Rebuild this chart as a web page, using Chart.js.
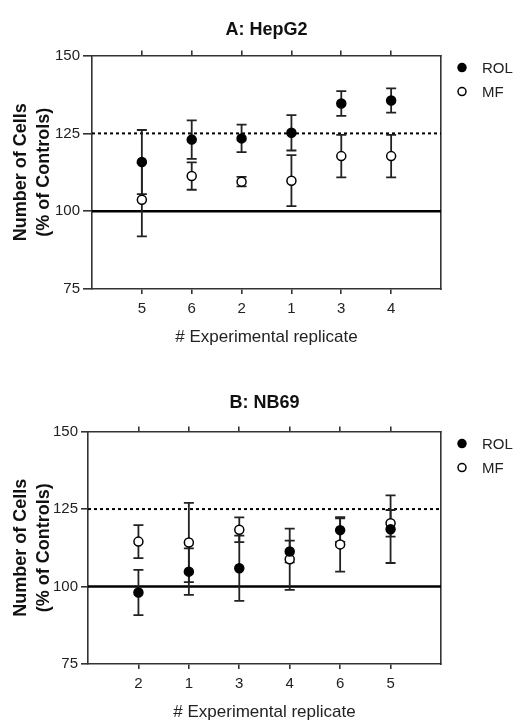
<!DOCTYPE html>
<html lang="en">
<head>
    <meta charset="UTF-8">
    <title>Number of Cells – HepG2 / NB69</title>
    <script src="https://cdn.jsdelivr.net/npm/chart.js"></script>
    <style>
        body { margin: 0; width: 517px; height: 720px; overflow: hidden; background: white; position: relative; }
        canvas { position: absolute; left: 0; }
        #chartA { top: 0; }
        #chartB { top: 372px; }
    </style>
</head>
<body>

<canvas id="chartA" width="517" height="360"></canvas>
<canvas id="chartB" width="517" height="360"></canvas>

<script>
    const yTicks = [75, 100, 125, 150];

    // A: HepG2
    const catsA = ["5", "6", "2", "1", "3", "4"];
    const rolA = [115.8, 123.0, 123.4, 125.2, 134.6, 135.6];
    const rolErrA = [10.3, 6.2, 4.4, 5.7, 4.0, 3.9];
    const mfA = [103.7, 111.3, 109.5, 109.8, 117.7, 117.7];
    const mfErrA = [11.8, 4.4, 1.5, 8.2, 6.8, 6.8];

    // B: NB69
    const catsB = ["2", "1", "3", "4", "6", "5"];
    const rolB = [98.1, 104.8, 105.9, 111.3, 118.2, 118.5];
    const rolErrB = [7.3, 7.5, 10.5, 3.5, 3.8, 10.9];
    const mfB = [114.5, 114.2, 118.3, 108.8, 113.6, 120.4];
    const mfErrB = [5.3, 12.8, 4.0, 9.9, 8.8, 4.3];

    const FONT = "'Liberation Sans', Arial, sans-serif";
    const INK = "#222";
    Chart.defaults.font.family = FONT;
    Chart.defaults.color = INK;

    // reference lines (100 solid, 125 dotted) + error bars, under the points
    const errorBars = {
        id: "errorBars",
        beforeDatasetsDraw(chart) {
            const { ctx, chartArea: a, scales: { y } } = chart;
            ctx.save();
            ctx.strokeStyle = "#000";
            ctx.lineWidth = 2.5;
            ctx.beginPath();
            ctx.moveTo(a.left, y.getPixelForValue(100));
            ctx.lineTo(a.right, y.getPixelForValue(100));
            ctx.stroke();
            ctx.lineWidth = 2;
            ctx.setLineDash([3, 3]);
            ctx.beginPath();
            ctx.moveTo(a.left, y.getPixelForValue(125));
            ctx.lineTo(a.right, y.getPixelForValue(125));
            ctx.stroke();
            ctx.setLineDash([]);

            ctx.strokeStyle = "#222";
            ctx.lineWidth = 1.8;
            chart.data.datasets.forEach((ds, di) => {
                chart.getDatasetMeta(di).data.forEach((pt, i) => {
                    const v = ds.data[i].y, e = ds.errors[i];
                    const top = y.getPixelForValue(v + e), bot = y.getPixelForValue(v - e);
                    ctx.beginPath();
                    ctx.moveTo(pt.x, top); ctx.lineTo(pt.x, bot);
                    ctx.moveTo(pt.x - 5, top); ctx.lineTo(pt.x + 5, top);
                    ctx.moveTo(pt.x - 5, bot); ctx.lineTo(pt.x + 5, bot);
                    ctx.stroke();
                });
            });
            ctx.restore();
        }
    };

    // legend to the right of the plot box
    const sideLegend = {
        id: "sideLegend",
        afterDraw(chart) {
            const { ctx, chartArea: a } = chart;
            ctx.save();
            ctx.font = "15px " + FONT;
            ctx.textBaseline = "middle";
            chart.data.datasets.forEach((ds, i) => {
                const cy = a.top + 12 + i * 24;
                ctx.beginPath();
                ctx.arc(a.right + 21, cy, 4, 0, Math.PI * 2);
                ctx.fillStyle = ds.backgroundColor;
                ctx.fill();
                ctx.lineWidth = 1.5;
                ctx.strokeStyle = "#000";
                ctx.stroke();
                ctx.fillStyle = INK;
                ctx.fillText(ds.label, a.right + 41, cy + 1);
            });
            ctx.restore();
        }
    };

    function makeChart(id, title, cats, rol, rolErr, mf, mfErr, L) {
        const pts = vals => vals.map((v, i) => ({ x: i + 1, y: v }));
        const catTicks = s => { s.ticks = cats.map((c, i) => ({ value: i + 1 })); };
        const line = { color: "#333", width: 1.6 };
        new Chart(document.getElementById(id), {
            type: "scatter",
            data: {
                datasets: [
                    { label: "ROL", data: pts(rol), errors: rolErr,
                      backgroundColor: "#000", borderColor: "#000", borderWidth: 1.5, pointRadius: 4.5 },
                    { label: "MF", data: pts(mf), errors: mfErr,
                      backgroundColor: "#fff", borderColor: "#000", borderWidth: 1.5, pointRadius: 4.5 }
                ]
            },
            plugins: [errorBars, sideLegend],
            options: {
                responsive: false,
                animation: false,
                layout: { padding: { left: 0, right: 76, top: 0, bottom: 0 } },
                plugins: {
                    legend: { display: false },
                    tooltip: { enabled: false },
                    title: {
                        display: true, text: title, fullSize: false, color: "#111",
                        font: { size: 18, weight: "bold" },
                        padding: { top: L.titleTop, bottom: L.titleBottom }
                    }
                },
                scales: {
                    x: {
                        type: "linear", position: "bottom", min: 0, max: 7,
                        afterBuildTicks: catTicks,
                        afterFit: s => { s.height = L.xHeight; },
                        ticks: { font: { size: 15 }, padding: 6, callback: v => cats[v - 1] },
                        grid: { drawOnChartArea: false, tickLength: 5, color: line.color, lineWidth: line.width },
                        border: { color: line.color, width: line.width },
                        title: { display: true, text: "# Experimental replicate", font: { size: 17 },
                                 padding: { top: 0, bottom: L.xTitleBottom } }
                    },
                    x2: {
                        type: "linear", position: "top", min: 0, max: 7,
                        afterBuildTicks: catTicks,
                        afterFit: s => { s.height = 0; },
                        ticks: { display: false },
                        grid: { drawOnChartArea: false, tickLength: 5, color: line.color, lineWidth: line.width },
                        border: { color: line.color, width: line.width }
                    },
                    y: {
                        min: 75, max: 150,
                        afterBuildTicks: s => { s.ticks = yTicks.map(v => ({ value: v })); },
                        afterFit: s => { s.width = L.yWidth; },
                        ticks: { font: { size: 15 }, padding: 3 },
                        grid: { drawOnChartArea: false, tickLength: L.yTick, color: line.color, lineWidth: line.width },
                        border: { color: line.color, width: line.width },
                        title: { display: true, text: ["Number of Cells", "(% of Controls)"],
                                 font: { size: 18, weight: "bold", lineHeight: 1.25 }, color: "#111",
                                 padding: { top: 10, bottom: 0 } }
                    },
                    y2: {
                        position: "right", min: 75, max: 150,
                        afterFit: s => { s.width = 0; },
                        ticks: { display: false },
                        grid: { drawOnChartArea: false, drawTicks: false },
                        border: { color: line.color, width: line.width }
                    }
                }
            }
        });
    }

    makeChart("chartA", "A: HepG2", catsA, rolA, rolErrA, mfA, mfErrA,
        { titleTop: 19, titleBottom: 15, xHeight: 71, xTitleBottom: 12, yWidth: 92, yTick: 9 });
    makeChart("chartB", "B: NB69", catsB, rolB, rolErrB, mfB, mfErrB,
        { titleTop: 20, titleBottom: 18, xHeight: 68, xTitleBottom: 9, yWidth: 88, yTick: 7 });
</script>

</body>
</html>
